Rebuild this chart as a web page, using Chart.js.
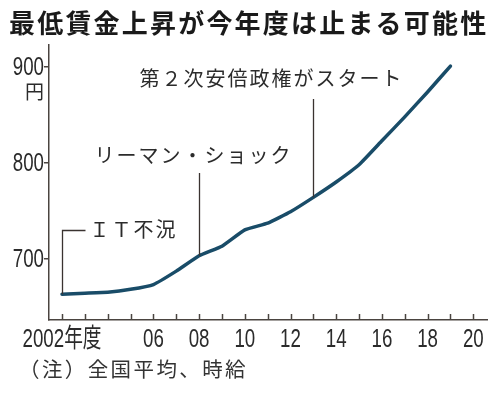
<!DOCTYPE html>
<html>
<head>
<meta charset="utf-8">
<script src="https://cdn.jsdelivr.net/npm/chart.js@4"></script>
<style>
  html, body { margin: 0; padding: 0; background: #fff; }
  #wrap { position: relative; width: 500px; height: 394px; overflow: hidden; }
  #title {
    position: absolute; left: 9px; top: 3px;
    font-family: "Noto Sans CJK JP", sans-serif; font-weight: bold;
    font-size: 26px; letter-spacing: 2.2px; color: #1a1a1a; white-space: nowrap;
  }
  #note {
    position: absolute; left: 19px; top: 353px;
    font-family: "Noto Sans CJK JP", sans-serif;
    font-size: 20.5px; letter-spacing: 2.4px; color: #333; white-space: nowrap;
  }
  canvas { position: absolute; left: 0; top: 0; }
</style>
</head>
<body>
<div id="wrap">
  <canvas id="chart" width="500" height="394"></canvas>
  <div id="title">最低賃金上昇が今年度は止まる可能性</div>
  <div id="note">（注）全国平均、時給</div>
</div>
<script>
// 最低賃金（全国加重平均、時給）
const years = [2002, 2003, 2004, 2005, 2006, 2007, 2008, 2009, 2010, 2011, 2012, 2013, 2014, 2015, 2016, 2017, 2018, 2019];
const wages = [663, 664, 665, 668, 673, 687, 703, 713, 730, 737, 749, 764, 780, 798, 823, 848, 874, 901];
const xTicks = [2002, 2003, 2004, 2005, 2006, 2007, 2008, 2009, 2010, 2011, 2012, 2013, 2014, 2015, 2016, 2017, 2018, 2019, 2020];
const xLabeled = [2002, 2006, 2008, 2010, 2012, 2014, 2016, 2018, 2020];
const yTicks = [700, 800, 900];

// 注記
const notes = [
  { year: 2002, text: "ＩＴ不況" },
  { year: 2008, text: "リーマン・ショック" },
  { year: 2013, text: "第２次安倍政権がスタート" }
];

const numFont = "26px 'Liberation Sans', 'Noto Sans CJK JP', sans-serif";
const jpFont = "'Noto Sans CJK JP', sans-serif";
const axisColor = "#4a4440";
const textColor = "#2b2b2b";
const squeeze = 0.72; // 数字は長体

function valueAt(year) {
  return wages[years.indexOf(year)];
}

function xLabel(v) {
  if (v === 2002) return "2002年度";
  return String(v).slice(2);
}

// 長体の文字を描く
function narrowText(ctx, text, x, y, align) {
  ctx.save();
  ctx.translate(x, y);
  ctx.scale(squeeze, 1);
  ctx.textAlign = align;
  ctx.fillText(text, 0, 0);
  ctx.restore();
}

// 目盛りラベル・内向き目盛り・円・注記
const extras = {
  id: "extras",
  afterDraw(chart) {
    const ctx = chart.ctx;
    const x = chart.scales.x;
    const y = chart.scales.y;
    const area = chart.chartArea;
    ctx.save();

    // x軸の目盛り（上向き）
    ctx.strokeStyle = axisColor;
    ctx.lineWidth = 1.5;
    xTicks.forEach((v) => {
      const px = Math.round(x.getPixelForValue(v)) + 0.5;
      ctx.beginPath();
      ctx.moveTo(px, area.bottom);
      ctx.lineTo(px, area.bottom - 6);
      ctx.stroke();
    });

    // 目盛りラベル
    ctx.fillStyle = textColor;
    ctx.font = numFont;
    ctx.textBaseline = "middle";
    xLabeled.forEach((v) => {
      narrowText(ctx, xLabel(v), x.getPixelForValue(v), area.bottom + 20, "center");
    });
    yTicks.forEach((v) => {
      narrowText(ctx, String(v), 44, y.getPixelForValue(v) + 1, "right");
    });

    // 単位
    ctx.font = "19px " + jpFont;
    ctx.textAlign = "right";
    ctx.fillText("円", 44, y.getPixelForValue(900) + 25);

    // 注記の引き出し線
    ctx.strokeStyle = "#3a3330";
    ctx.lineWidth = 1.3;
    ctx.font = "20px " + jpFont;
    ctx.letterSpacing = "2px";

    // ＩＴ不況
    let px = Math.round(x.getPixelForValue(notes[0].year)) + 0.5;
    let py = y.getPixelForValue(valueAt(notes[0].year));
    ctx.beginPath();
    ctx.moveTo(px, py);
    ctx.lineTo(px, 230.5);
    ctx.lineTo(px + 23, 230.5);
    ctx.stroke();
    ctx.textAlign = "left";
    ctx.fillText(notes[0].text, px + 27, 229);

    // リーマン・ショック
    px = Math.round(x.getPixelForValue(notes[1].year)) + 0.5;
    py = y.getPixelForValue(valueAt(notes[1].year));
    ctx.beginPath();
    ctx.moveTo(px, py);
    ctx.lineTo(px, 173);
    ctx.stroke();
    ctx.textAlign = "center";
    ctx.fillText(notes[1].text, px - 6, 155);

    // 第２次安倍政権
    px = Math.round(x.getPixelForValue(notes[2].year)) + 0.5;
    py = y.getPixelForValue(valueAt(notes[2].year));
    ctx.beginPath();
    ctx.moveTo(px, py);
    ctx.lineTo(px, 99);
    ctx.stroke();
    ctx.fillText(notes[2].text, px - 42, 78);

    ctx.restore();
  }
};

new Chart(document.getElementById("chart"), {
  type: "line",
  data: {
    datasets: [{
      data: years.map((yr, i) => ({ x: yr, y: wages[i] })),
      borderColor: "#194c68",
      borderWidth: 3.5,
      pointRadius: 0,
      tension: 0.12,
      borderCapStyle: "round",
      borderJoinStyle: "round"
    }]
  },
  options: {
    responsive: false,
    animation: false,
    devicePixelRatio: 1,
    layout: { padding: { left: 0, top: 45, right: 13, bottom: 0 } },
    plugins: { legend: { display: false }, tooltip: { enabled: false } },
    scales: {
      x: {
        type: "linear",
        min: 2001.43,
        max: 2020.6,
        afterFit: (s) => { s.height = 74; },
        afterBuildTicks: (s) => { s.ticks = xTicks.map((v) => ({ value: v })); },
        grid: { display: false, drawTicks: false },
        border: { display: true, color: axisColor, width: 1.5 },
        ticks: { display: false }
      },
      y: {
        min: 636,
        max: 923,
        afterFit: (s) => { s.width = 49; },
        afterBuildTicks: (s) => { s.ticks = yTicks.map((v) => ({ value: v })); },
        grid: { drawOnChartArea: false, drawTicks: true, tickLength: 5, color: axisColor, lineWidth: 1.5 },
        border: { display: true, color: axisColor, width: 1.5 },
        ticks: { display: false }
      }
    }
  },
  plugins: [extras]
});
</script>
</body>
</html>
